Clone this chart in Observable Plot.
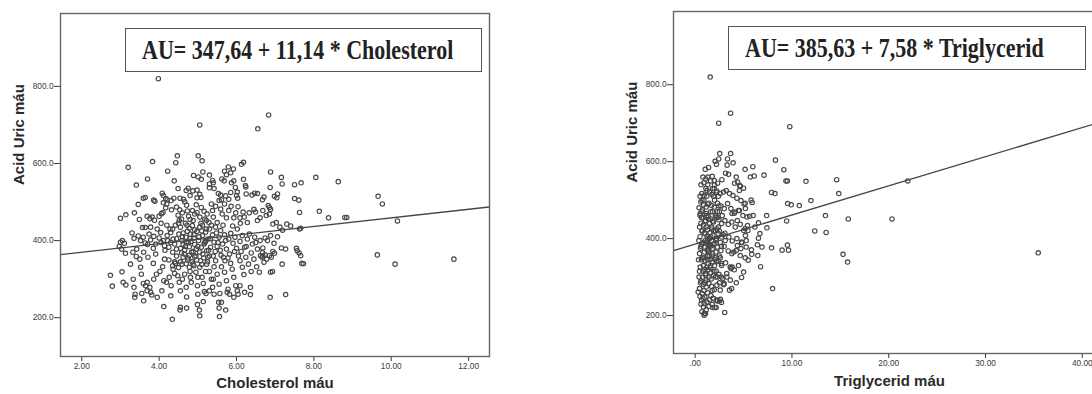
<!DOCTYPE html>
<html>
<head>
<meta charset="utf-8">
<script src="https://cdn.jsdelivr.net/npm/d3@7"></script>
<script src="https://cdn.jsdelivr.net/npm/@observablehq/plot@0.6"></script>
<style>
  html, body { margin: 0; padding: 0; background: #fff; overflow: hidden; width: 1092px; height: 394px; }
  #wrap { position: relative; width: 1092px; height: 394px; overflow: hidden; }
  #left, #right { position: absolute; top: 0; }
  #left { left: 0; width: 546px; }
  #right { left: 546px; width: 580px; }
  #wrap svg { max-width: none !important; display: block; }
  .eq { position: absolute; border: 1.5px solid #555; background: #fff; box-sizing: border-box; height: 44px; }
  .eq span { position: absolute; left: 16px; top: 6px; font: bold 22px "Liberation Serif", "Times New Roman", serif; color: #222; white-space: nowrap; transform: scaleY(1.2); transform-origin: left top; }
</style>
</head>
<body>
<div id="wrap">
  <div id="left"></div>
  <div id="right"></div>
  <div class="eq" id="eqL" style="left:125px; top:28px; width:357px;"><span></span></div>
  <div class="eq" id="eqR" style="left:728px; top:26px; width:358px;"><span></span></div>
</div>
<script>
// ---------- data ----------
const yLabel = "Acid Uric máu";
const leftXLabel = "Cholesterol máu";
const rightXLabel = "Triglycerid máu";
const leftEquation = "AU= 347,64 + 11,14 * Cholesterol";
const rightEquation = "AU= 385,63 + 7,58 * Triglycerid";
const leftFit = [347.64, 11.14];   // intercept, slope
const rightFit = [385.63, 7.58];

const yTicks = [200, 400, 600, 800];
const yTickLabels = ["200.0", "400.0", "600.0", "800.0"];
const leftXTicks = [2, 4, 6, 8, 10, 12];
const leftXTickLabels = ["2.00", "4.00", "6.00", "8.00", "10.00", "12.00"];
const rightXTicks = [0, 10, 20, 30, 40];
const rightXTickLabels = [".00", "10.00", "20.00", "30.00", "40.00"];

// Cholesterol (x) vs Acid Uric (y)
const cholPoints = [
[3.98,820],[6.83,726],[5.05,700],[6.55,690],[4.47,620],[5.01,620],[3.83,605],[4.43,602],[5.11,607],[6.18,603],[6.13,598],[3.2,590],[4.22,580],[5.79,591],[5.92,586],[5.13,578],[6.88,578],[3.7,560],[4.89,569],[5.01,565],[5.09,559],[5.3,570],[5.38,556],[5.4,550],[5.69,580],[5.74,571],[5.85,576],[5.62,560],[5.68,555],[5.87,550],[5.93,555],[6.18,559],[6.24,539],[4.39,555],[4.49,535],[3.41,544],[7.16,564],[7.18,547],[7.5,545],[7.67,550],[8.05,564],[8.63,553],
[3.59,510],[3.64,512],[3.89,502],[3.86,505],[4.08,523],[4.11,517],[4.17,509],[4.21,506],[4.38,510],[4.54,510],[4.63,507],[4.7,530],[4.75,536],[4.8,517],[4.87,529],[4.98,531],[4.98,511],[5.05,520],[5.08,512],[5.3,547],[5.3,537],[5.42,535],[5.53,522],[5.59,518],[5.61,506],[5.72,516],[5.8,507],[5.85,525],[6.0,517],[6.03,510],[5.97,538],[6.02,526],[6.23,543],[6.25,521],[6.4,518],[6.47,523],[6.54,522],[6.67,506],[6.71,513],[6.87,538],[6.98,515],[7.04,511],[7.06,521],[6.82,491],[6.85,486],[6.88,481],[7.5,509],[7.61,505],[7.63,473],[8.14,476],[8.38,459],[8.8,460],[8.85,460],
[9.66,515],[9.77,495],[10.16,451],[9.64,363],[10.1,339],[11.62,352],
[3.46,494],[3.36,472],[3.14,467],[3.0,458],[3.49,455],[3.69,463],[3.57,434],[3.64,434],[3.78,435],[3.3,420],
[3.76,457],[3.82,461],[3.88,453],[4.0,463],[4.06,470],[4.1,473],[4.11,498],[4.17,485],[4.2,495],[4.31,504],[4.32,480],[4.45,487],[4.49,466],[4.53,480],[4.58,456],[4.6,472],[4.66,501],[4.71,492],[4.73,477],[4.76,463],[4.8,455],[4.86,478],[4.92,469],[4.96,493],[4.98,473],[5.05,461],[5.09,486],[5.16,476],[5.18,456],[5.24,469],[5.29,447],[5.35,495],[5.38,478],[5.4,461],[5.46,489],[5.5,447],[5.55,504],[5.59,482],[5.63,469],[5.69,495],[5.74,459],[5.8,478],[5.86,489],[5.93,459],[5.98,472],[6.04,488],[6.09,459],[6.17,474],[6.2,461],[6.28,447],[6.33,472],[6.45,481],[6.49,474],[6.54,452],[6.61,459],[6.68,478],[6.77,465],[6.85,469],[6.94,443],[7.03,447],[7.12,435],[7.19,427],[7.3,443],[7.4,438],[7.63,430],[7.66,432],
[3.0,396],[3.05,400],[3.1,393],[2.97,385],[3.03,378],[3.13,367],[3.32,370],[3.42,378],[3.41,359],
[3.35,406],[3.46,412],[3.52,400],[3.59,409],[3.64,394],[3.74,417],[3.78,402],[3.86,411],[3.91,391],[4.0,407],
[4.04,421],[4.11,400],[4.14,387],[4.21,413],[4.25,383],[4.3,421],[4.36,404],[4.4,391],[4.45,378],[4.51,417],
[4.55,435],[4.59,400],[4.62,390],[4.66,376],[4.69,409],[4.73,424],[4.75,396],[4.78,384],[4.81,417],[4.84,370],
[4.86,439],[4.9,407],[4.92,390],[4.96,378],[4.98,424],[5.02,400],[5.05,435],[5.09,383],[5.12,413],[5.16,391],
[5.2,422],[5.23,374],[5.26,404],[5.3,430],[5.33,383],[5.38,415],[5.42,396],[5.46,435],[5.5,385],[5.55,409],
[5.59,426],[5.64,391],[5.69,415],[5.74,378],[5.8,404],[5.85,419],[5.91,393],[5.96,409],[6.02,430],[6.09,398],
[6.15,413],[6.21,383],[6.28,404],[6.33,417],[6.41,391],[6.47,409],[6.54,378],[6.61,400],[6.68,381],[6.74,407],
[6.8,400],[6.88,413],[6.97,393],[7.06,410],[7.16,381],[7.27,378],[7.55,380],[7.57,374],[7.62,368],[7.66,361],[7.69,341],[7.73,340],
[6.94,372],[6.98,367],[6.85,361],[6.74,363],[6.62,361],[6.68,360],[6.67,369],
[2.74,310],[2.79,282],[3.07,292],[3.14,285],[3.04,319],[3.26,339],[3.33,300],[3.38,261],[3.37,253],[3.6,244],
[3.52,331],[3.54,313],[3.59,289],[3.65,283],[3.69,270],[3.78,266],[3.5,352],[3.71,357],[3.85,341],[3.91,365],
[3.86,300],[3.93,313],[4.02,320],[4.09,332],[4.14,352],[4.19,292],[4.26,305],[4.31,283],[4.36,326],[4.42,341],
[4.48,309],[4.52,292],[4.55,270],[4.59,339],[4.62,357],[4.66,313],[4.7,279],[4.71,254],[4.74,350],[4.78,331],
[4.81,305],[4.83,292],[4.88,339],[4.92,358],[4.95,318],[4.99,283],[5.0,261],[5.05,331],[5.07,348],[5.11,305],
[5.14,289],[5.17,268],[5.23,339],[5.26,357],[5.3,320],[5.35,300],[5.38,279],[5.42,332],[5.46,348],[5.5,313],
[5.55,287],[5.57,263],[5.61,332],[5.66,357],[5.69,318],[5.74,296],[5.78,274],[5.85,341],[5.89,326],[5.93,305],
[5.98,283],[6.02,270],[6.09,348],[6.15,331],[6.19,312],[6.24,357],[6.31,339],[6.38,320],[6.45,352],[6.52,332],
[6.59,318],[6.66,357],[6.71,344],[6.78,352],[6.9,357],[6.88,318],[6.93,320],[7.18,339],[7.27,260],[6.87,253],
[6.36,279],[6.36,260],[6.21,266],[6.09,283],[6.04,261],[5.82,261],[5.93,253],[5.76,266],[5.61,240],[5.42,261],
[5.3,270],[5.21,263],[5.14,242],[4.99,234],[5.04,220],[5.05,205],[4.55,227],[4.54,220],[4.71,225],[4.34,196],[4.12,229],
[5.55,225],[5.56,203],[5.72,220],[5.54,240],[4.3,257],[4.07,270],[3.95,253],[3.76,279],[3.69,292],[3.35,279],[3.55,263],[3.81,259],[4.12,296],
[4.6,410],[4.7,395],[4.8,405],[4.9,415],[5.0,385],[5.1,425],[5.2,398],[4.55,380],[4.65,365],[4.75,355],[4.85,345],[4.95,360],[5.05,370],[5.15,355],[5.25,345],[4.45,360],[4.35,370],[4.25,350],[4.4,345],[4.5,330],
[4.42,440],[4.52,452],[4.68,445],[4.78,432],[4.88,452],[5.12,440],[5.22,452],[5.32,405],[5.45,372],[5.6,362],[5.7,348],[5.82,365],[5.95,372],[6.05,360],[6.12,372],[6.25,385],[6.38,368],[6.5,395],[4.2,440],[4.05,445],
[4.3,395],[4.35,430],[4.45,405],[4.5,445],[4.58,368],[4.62,420],[4.68,385],[4.72,440],[4.78,362],[4.82,398],[4.88,372],[4.92,428],[4.97,350],[5.03,410],[5.08,445],[5.13,365],[5.18,395],[5.22,430],[5.28,375],[5.35,440],
[5.4,360],[5.48,420],[5.52,395],[5.58,375],[5.65,440],[5.72,400],[5.78,355],[5.9,438],[6.0,380],[6.1,445],[4.15,375],[4.22,400],[4.28,430],[4.05,395],[3.95,430],[3.85,380],[3.7,390],[3.6,370],[4.4,315],[4.6,300],
[4.8,320],[5.0,305],[5.2,320],[5.4,300],[4.7,340],[4.9,335],[5.1,338],[5.3,360],[4.55,345],[4.35,335]
];

// Triglycerid (x) vs Acid Uric (y)
const triPoints = [
[1.55,820],[3.66,726],[2.43,700],[9.78,691],[2.54,621],[3.66,621],[2.43,607],[3.34,607],[3.92,597],[3.3,591],[2.06,601],[2.2,593],
[8.29,604],[9.16,579],[5.16,580],[5.96,587],[6.1,563],[5.7,560],[7.12,565],[11.45,549],[9.38,550],[9.53,550],[14.62,553],[14.84,517],[21.97,550],
[7.89,520],[8.25,517],[5.78,500],[5.89,494],[9.56,491],[9.93,488],[10.76,486],[11.96,499],[13.46,460],[15.82,451],[20.34,451],[12.36,420],[13.53,416],
[9.45,446],[7.38,460],[7.41,428],[5.99,460],[5.63,458],[6.54,441],[6.69,413],[6.54,401],[6.9,378],[6.43,384],[7.89,376],[8.98,370],[9.64,370],[9.53,383],
[5.85,359],[6.47,356],[5.48,344],[6.76,327],[15.28,359],[15.75,339],[35.45,363],[8.0,270],[4.79,299],[4.25,285],[3.77,270],[3.05,208],[2.94,280],[2.5,285],
[2.28,238],[2.72,234],[2.61,242],[1.81,221],[2.17,221],[0.93,201],[0.93,205],[3.7,322],
[1.04,580],[1.31,560],[0.8,560],[1.38,585],[1.76,562],[1.97,551],[2.31,544],[2.76,553],[3.14,570],[3.45,567],[4.24,560],[4.38,547],[4.66,536],[5.0,531],
[0.69,517],[0.93,512],[1.21,525],[1.48,521],[1.73,515],[1.97,530],[2.24,524],[2.59,517],[2.93,521],[3.21,525],[3.55,517],[3.9,512],[4.31,505],[4.73,499],[5.17,492],
[0.59,495],[0.86,488],[1.14,482],[1.42,492],[1.69,486],[1.97,482],[2.31,492],[2.66,485],[3.0,478],[3.35,491],[3.69,478],[4.04,466],[4.48,473],[4.93,460],[5.35,456],
[0.52,465],[0.8,454],[1.07,447],[1.35,458],[1.62,451],[1.9,443],[2.17,456],[2.45,449],[2.73,439],[3.07,447],[3.42,437],[3.79,443],[4.14,430],[4.66,437],[5.17,426],
[0.45,430],[0.73,420],[1.0,413],[1.28,423],[1.55,416],[1.83,408],[2.1,421],[2.38,413],[2.73,404],[3.07,414],[3.48,404],[3.83,394],[4.31,400],[4.83,389],[5.28,395],
[0.38,395],[0.66,385],[0.93,378],[1.21,388],[1.48,382],[1.76,374],[2.04,387],[2.31,378],[2.66,369],[3.0,380],[3.42,368],[3.79,361],[4.24,369],[4.66,356],[5.17,350],
[0.45,361],[0.73,350],[1.0,343],[1.28,354],[1.55,347],[1.83,339],[2.1,350],[2.38,342],[2.73,330],[3.14,337],[3.62,326],[4.04,319],[4.48,330],[5.0,313],
[0.52,326],[0.8,316],[1.07,309],[1.35,319],[1.62,311],[1.9,304],[2.17,316],[2.45,307],[2.86,296],[3.28,300],
[0.59,290],[0.86,281],[1.14,274],[1.42,283],[1.69,276],[1.97,267],[2.24,279],[2.59,266],[3.0,283],[3.55,266],
[0.45,270],[0.31,261],[0.73,257],[1.0,248],[1.28,259],[0.66,240],[0.93,231],[1.21,235],[1.48,241],[1.76,229],
[0.86,222],[1.14,215],[1.07,205],[1.42,224],[2.04,221],[2.24,240],[2.52,238],[1.9,244],[1.62,252],
[4.07,544],[4.61,538],[4.57,525],[5.05,490],[5.19,478],[4.57,473],[4.07,469],[5.41,434],[5.01,421],[5.19,408],[4.79,391],[4.36,382],[3.99,365],[4.72,374],[5.27,378],[5.81,371],[5.45,421],[6.17,430],[4.36,447],[3.81,465],[3.81,326],[2.72,335],[3.26,309],[3.63,292],
[0.6,440],[0.7,470],[0.9,500],[1.1,530],[1.2,460],[1.3,400],[1.4,370],[1.5,440],[1.6,470],[1.7,395],[1.8,360],[1.9,420],[2.0,500],[2.1,460],[2.2,400],[2.4,430],[2.5,470],[2.6,390],[2.8,460],[2.9,410],
[0.5,405],[0.55,375],[0.65,345],[0.75,300],[0.85,330],[0.95,365],[1.05,395],[1.15,430],[1.25,370],[1.35,335],[1.45,300],[1.6,330],[1.7,355],[1.85,385],[2.0,330],[2.15,365],[2.3,300],[2.5,355],[2.7,380],[3.1,395],
[0.4,480],[0.5,510],[0.6,540],[0.7,420],[0.8,390],[0.9,350],[1.0,320],[1.1,290],[1.2,510],[1.3,490],[1.4,450],[1.5,400],[1.6,380],[1.7,430],[1.8,470],[1.9,510],[2.0,540],[2.1,300],[2.2,340],[2.3,470],
[2.4,510],[2.5,420],[2.6,350],[2.7,300],[0.35,345],[0.45,315],[0.55,285],[0.65,455],[0.75,475],[0.85,435],[0.95,415],[1.05,445],[1.15,465],[1.25,405],[1.35,385],[1.45,355],[1.55,325],[1.65,295],[1.75,265],[1.85,245],
[1.95,315],[2.05,345],[2.15,395],[2.25,425],[2.35,455],[2.45,485],[0.5,250],[0.6,230],[0.7,210],[0.8,245],[0.9,265],[1.0,285],[1.1,305],[1.2,325],[1.3,345],[1.4,365],[1.5,385],[1.6,405],[1.7,425],[1.8,445],
[0.4,300],[0.5,460],[0.6,380],[0.7,500],[0.9,545],[1.1,555],[1.3,540],[1.6,550],[1.8,530],[2.2,520]
];

// ---------- helpers ----------
const lab = (ticks, labels) => d => labels[ticks.indexOf(d)] ?? "";
const fitLine = (fit, domain) => domain.map(x => ({x, y: fit[0] + fit[1] * x}));

const common = {
  height: 394,
  style: { fontFamily: "'Liberation Sans', Arial, sans-serif", fontSize: "8.3px", color: "#3a3a3a", background: "transparent" }
};

function panel({points, xDomain, yDomain, xTicks, xTickLabels, fit, xLabel, width, margins, xLabelDy}) {
  return Plot.plot({
    ...common,
    width,
    ...margins,
    x: { domain: xDomain, ticks: xTicks, tickFormat: lab(xTicks, xTickLabels), tickSize: 5, tickPadding: 2, label: null },
    y: { domain: yDomain, ticks: yTicks, tickFormat: lab(yTicks, yTickLabels), tickSize: 6, tickPadding: 1, label: null },
    marks: [
      Plot.dot(points, { x: d => d[0], y: d => d[1], r: 2.2, stroke: "#474747", strokeWidth: 1.15, fill: "none" }),
      Plot.line(fitLine(fit, xDomain), { x: "x", y: "y", stroke: "#444", strokeWidth: 1.3, clip: true }),
      Plot.frame({ stroke: "#666", strokeWidth: 1.4 }),
      Plot.text([yLabel], { frameAnchor: "left", rotate: -90, dx: -41.5, fontSize: 15, fontWeight: "bold", fill: "#2a2a2a" }),
      Plot.text([xLabel], { frameAnchor: "bottom", dy: xLabelDy, fontSize: 15, fontWeight: "bold", fill: "#2a2a2a" })
    ]
  });
}

document.getElementById("left").append(panel({
  points: cholPoints,
  xDomain: [1.45, 12.54], yDomain: [99.5, 989],
  xTicks: leftXTicks, xTickLabels: leftXTickLabels,
  fit: leftFit, xLabel: leftXLabel, width: 546,
  margins: { marginLeft: 60, marginRight: 57, marginTop: 13, marginBottom: 38 },
  xLabelDy: 31.3
}));

document.getElementById("right").append(panel({
  points: triPoints,
  xDomain: [-2.24, 42.4], yDomain: [101.3, 990.4],
  xTicks: rightXTicks, xTickLabels: rightXTickLabels,
  fit: rightFit, xLabel: rightXLabel, width: 580,
  margins: { marginLeft: 127, marginRight: 21, marginTop: 11, marginBottom: 41 },
  xLabelDy: 32.8
}));

document.querySelector("#eqL span").textContent = leftEquation;
document.querySelector("#eqR span").textContent = rightEquation;
</script>
</body>
</html>
